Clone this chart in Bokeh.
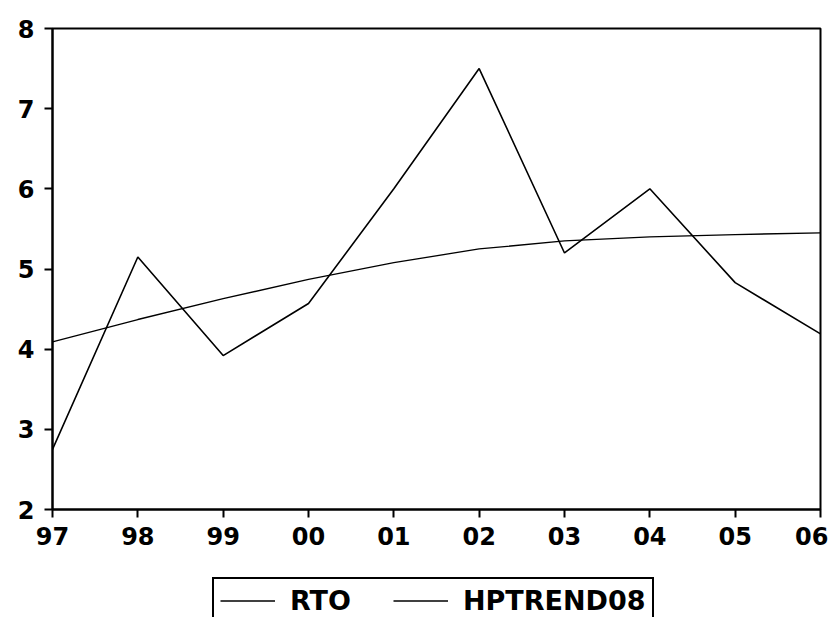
from bokeh.plotting import figure
from bokeh.models import Range1d, FixedTicker, Legend, LegendItem
from bokeh.layouts import column
from bokeh.embed import file_html
from bokeh.resources import INLINE

years = [1997, 1998, 1999, 2000, 2001, 2002, 2003, 2004, 2005, 2006]
year_labels = ["97", "98", "99", "00", "01", "02", "03", "04", "05", "06"]
rto = [2.75, 5.15, 3.92, 4.57, 6.0, 7.5, 5.2, 6.0, 4.83, 4.19]
hptrend08 = [4.09, 4.37, 4.63, 4.87, 5.08, 5.25, 5.35, 5.40, 5.43, 5.45]
y_ticks = [2, 3, 4, 5, 6, 7, 8]

FONT = "DejaVu Sans"

p = figure(width=828, height=560, output_backend="svg", toolbar_location=None,
           x_range=Range1d(years[0], years[-1]), y_range=Range1d(2, 8),
           min_border_left=52, min_border_right=8, min_border_top=28,
           min_border_bottom=51)

p.line(years, rto, line_color="black", line_width=1.6)
p.line(years, hptrend08, line_color="black", line_width=1.3)

p.xgrid.visible = False
p.ygrid.visible = False
p.outline_line_color = "black"
p.outline_line_width = 2
p.background_fill_color = "white"
p.border_fill_color = "white"

p.xaxis.ticker = FixedTicker(ticks=years)
p.xaxis.major_label_overrides = {y: l for y, l in zip(years, year_labels)}
p.yaxis.ticker = FixedTicker(ticks=y_ticks)
p.xaxis.minor_tick_line_color = None
p.yaxis.minor_tick_line_color = None
for ax in (p.xaxis[0], p.yaxis[0]):
    ax.axis_line_color = "black"
    ax.axis_line_width = 2
    ax.major_tick_line_color = "black"
    ax.major_tick_line_width = 2
    ax.major_tick_in = 0
    ax.major_tick_out = 8
    ax.major_label_text_font = FONT
    ax.major_label_text_font_size = "24px"
    ax.major_label_text_font_style = "bold"
    ax.major_label_text_color = "black"
p.xaxis.major_label_standoff = 9
p.yaxis.major_label_standoff = 10

# legend strip below the chart
lg = figure(width=828, height=57, output_backend="svg", toolbar_location=None,
            x_range=Range1d(0, 1), y_range=Range1d(0, 1),
            x_axis_type=None, y_axis_type=None,
            min_border=0, min_border_left=0, min_border_right=0,
            min_border_top=0, min_border_bottom=0)
lg.xgrid.visible = False
lg.ygrid.visible = False
lg.outline_line_color = None
lg.background_fill_color = "white"
lg.border_fill_color = "white"
l1 = lg.line(years, rto, line_color="black", line_width=1.6)
l2 = lg.line(years, hptrend08, line_color="black", line_width=1.3)

legend = Legend(items=[LegendItem(label="RTO", renderers=[l1]),
                       LegendItem(label="HPTREND08", renderers=[l2])],
                orientation="horizontal", location=(160, -7),
                border_line_color="black", border_line_width=2,
                border_line_alpha=1,
                label_text_font=FONT, label_text_font_size="27px",
                label_text_font_style="bold",
                label_text_color="black", label_height=27,
                glyph_width=55, glyph_height=27, label_standoff=15, spacing=42,
                padding=6, margin=0, background_fill_alpha=1)
lg.add_layout(legend, "center")

layout = column(p, lg, spacing=0)
open("out.html", "w").write(file_html(layout, INLINE))
